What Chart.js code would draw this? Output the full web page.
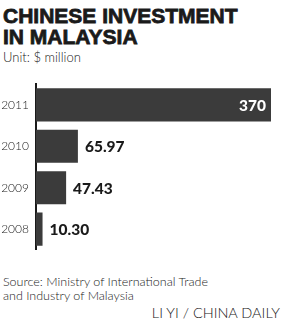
<!DOCTYPE html>
<html>
<head>
<meta charset="utf-8">
<script src="https://cdn.jsdelivr.net/npm/chart.js@4"></script>
<style>
  body { margin: 0; background: #fff; width: 287px; height: 324px; position: relative; overflow: hidden; }
  .t { position: absolute; left: 3px; white-space: nowrap; color: #1a1a1a; }
  #title { top: 5px; font: bold 21px/21px "Liberation Sans", Arial, sans-serif; -webkit-text-stroke: 0.8px #1a1a1a; }
  #unit { top: 49px; font: 300 13px "Lato", sans-serif; color: #222; }
  #source { top: 275px; font: 300 12.5px/13.5px "Lato", sans-serif; color: #222; }
  #credit { top: 304px; left: auto; right: 7px; font: 300 14.5px "Lato", sans-serif; color: #222; }
  #wrap { position: absolute; left: 0; top: 70px; width: 287px; height: 194px; }
</style>
</head>
<body>
<div class="t" id="title">CHINESE INVESTMENT<br>IN MALAYSIA</div>
<div class="t" id="unit">Unit: $ million</div>
<div id="wrap"><canvas id="chart"></canvas></div>
<div class="t" id="source">Source: Ministry of International Trade<br>and Industry of Malaysia</div>
<div class="t" id="credit">LI YI / CHINA DAILY</div>

<script>
const years = ['2011', '2010', '2009', '2008']
const investment = [370, 65.97, 47.43, 10.30]
const valueLabels = ['370', '65.97', '47.43', '10.30']

const BAR_COLOR = '#3b3b3b'

// writes the value next to (or inside, for the long bar) each bar
const valuePlugin = {
    id: 'valueLabels',
    afterDatasetsDraw(chart) {
        const ctx = chart.ctx
        const meta = chart.getDatasetMeta(0)
        ctx.save()
        ctx.font = '900 15.5px "Lato", sans-serif'
        ctx.textBaseline = 'middle'
        meta.data.forEach((bar, i) => {
            const inside = investment[i] > 200
            if (inside) {
                ctx.fillStyle = '#fff'
                ctx.textAlign = 'right'
                ctx.fillText(valueLabels[i], bar.x - 5, bar.y + 1)
            } else {
                ctx.fillStyle = '#1a1a1a'
                ctx.textAlign = 'left'
                ctx.fillText(valueLabels[i], bar.x + 7, bar.y + 1)
            }
        })
        ctx.restore()
    }
}

window.onload = () => {
    new Chart(document.getElementById('chart'), {
        type: 'bar',
        data: {
            labels: years,
            datasets: [{
                data: investment,
                backgroundColor: BAR_COLOR,
                barPercentage: 0.8,
                categoryPercentage: 1
            }]
        },
        options: {
            indexAxis: 'y',
            responsive: true,
            maintainAspectRatio: false,
            animation: false,
            layout: { padding: { left: 0, right: 16, top: 0, bottom: 0 } },
            plugins: { legend: { display: false }, tooltip: { enabled: false } },
            scales: {
                x: { display: false, min: 0, max: 370 },
                y: {
                    grid: { display: false, drawTicks: false },
                    border: { display: true, color: '#1a1a1a', width: 2 },
                    ticks: { color: '#222', padding: 7, font: { family: 'Lato', weight: 300, size: 12 } },
                    afterFit: (scale) => { scale.width = 36 }
                }
            }
        },
        plugins: [valuePlugin]
    })
}
</script>
</body>
</html>
